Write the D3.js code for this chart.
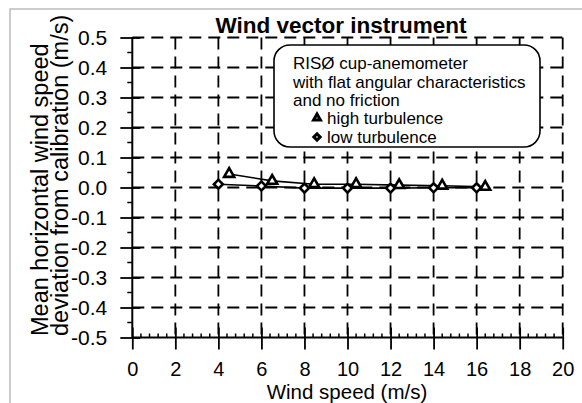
<!DOCTYPE html>
<html>
<head>
<meta charset="utf-8">
<script src="https://cdn.jsdelivr.net/npm/d3@7"></script>
<style>
  body { margin: 0; background: #fff; }
  svg { display: block; font-family: "Liberation Sans", Arial, sans-serif; }
</style>
</head>
<body>
<svg id="chart" width="582" height="403"></svg>
<script>
// Data
const highSpeed = [4.5, 6.5, 8.45, 10.4, 12.4, 14.4, 16.4];
const highDev = [0.045, 0.022, 0.011, 0.011, 0.008, 0.006, 0.002];
const lowSpeed = [4, 6, 8, 10, 12, 14, 16];
const lowDev = [0.011, 0.005, -0.002, -0.002, -0.002, -0.001, -0.001];

const xTicks = [0, 2, 4, 6, 8, 10, 12, 14, 16, 18, 20];
const yTicks = [-0.5, -0.4, -0.3, -0.2, -0.1, 0.0, 0.1, 0.2, 0.3, 0.4, 0.5];
const legendLines = ["RISØ cup-anemometer", "with flat angular characteristics", "and no friction"];
const seriesNames = ["high turbulence", "low turbulence"];

const svg = d3.select("#chart");

// frame
svg.append("path")
  .attr("d", "M10,403 V9 H582")
  .attr("fill", "none")
  .attr("stroke", "#bdbdbd")
  .attr("stroke-width", 1.5);

const x = d3.scaleLinear().domain([0, 20]).range([132.3, 562.7]);
const y = d3.scaleLinear().domain([-0.5, 0.5]).range([337.5, 37.5]);

// dashed grid
const grid = svg.append("g")
  .attr("stroke", "#000")
  .attr("stroke-width", 1.8)
  .attr("stroke-dasharray", "12,7");

grid.selectAll(".vg")
  .data(xTicks.filter(d => d > 0))
  .enter().append("line")
  .attr("x1", d => x(d)).attr("x2", d => x(d))
  .attr("y1", y(0.5)).attr("y2", y(-0.5));

grid.selectAll(".hg")
  .data(yTicks.filter(d => d > -0.5))
  .enter().append("line")
  .attr("y1", d => y(d)).attr("y2", d => y(d))
  .attr("x1", x(0)).attr("x2", x(20));

// y axis
const yAxis = svg.append("g").attr("transform", `translate(${x(0)},0)`);
yAxis.call(d3.axisLeft(y).tickValues(yTicks).tickSize(12).tickPadding(13)
  .tickFormat(d3.format(".1f")));
yAxis.select(".domain").remove();
yAxis.selectAll(".tick line").attr("x2", -12).attr("x1", 8).attr("stroke-width", 1.8);
yAxis.selectAll(".tick text").attr("font-size", 21).attr("font-family", "Liberation Sans, Arial, sans-serif")
  .text(d => d3.format(".1f")(d).replace("−", "-"));
yAxis.append("line").attr("y1", y(0.5)).attr("y2", y(-0.5)).attr("stroke", "#000").attr("stroke-width", 2);
yAxis.selectAll(".ymin")
  .data(d3.range(-9, 10, 2).map(d => d / 20))
  .enter().append("line")
  .attr("y1", d => y(d)).attr("y2", d => y(d))
  .attr("x1", -5).attr("x2", 0)
  .attr("stroke", "#000").attr("stroke-width", 1.5);

// x axis
const xAxis = svg.append("g").attr("transform", `translate(0,${y(-0.5)})`);
xAxis.call(d3.axisBottom(x).tickValues(xTicks).tickSize(12).tickPadding(12));
xAxis.select(".domain").remove();
xAxis.selectAll(".tick line").attr("y1", -10).attr("stroke-width", 1.8);
xAxis.selectAll(".tick text").attr("font-size", 20).attr("font-family", "Liberation Sans, Arial, sans-serif");
xAxis.append("line").attr("x1", x(0)).attr("x2", x(20)).attr("stroke", "#000").attr("stroke-width", 2);
xAxis.selectAll(".xmin")
  .data(d3.range(0, 20.01, 0.4).filter(d => Math.abs(d / 2 - Math.round(d / 2)) > 0.01))
  .enter().append("line")
  .attr("x1", d => x(d)).attr("x2", d => x(d))
  .attr("y1", -4).attr("y2", 0)
  .attr("stroke", "#000").attr("stroke-width", 1.5);

// titles
svg.append("text")
  .attr("x", 341).attr("y", 33)
  .attr("text-anchor", "middle")
  .attr("font-size", 22.5).attr("font-weight", "bold")
  .text("Wind vector instrument");

svg.append("text")
  .attr("x", 347).attr("y", 398.5)
  .attr("text-anchor", "middle")
  .attr("font-size", 20.5)
  .text("Wind speed (m/s)");

svg.append("text")
  .attr("transform", "translate(48,336) rotate(-90)")
  .attr("font-size", 23.5)
  .text("Mean horizontal wind speed");
svg.append("text")
  .attr("transform", "translate(68,336) rotate(-90)")
  .attr("font-size", 23.5)
  .text("deviation from calibration (m/s)");

// legend box
svg.append("rect")
  .attr("x", 274).attr("y", 45).attr("width", 266).attr("height", 102)
  .attr("rx", 16).attr("ry", 16)
  .attr("fill", "#fff").attr("stroke", "#000").attr("stroke-width", 1.6);

legendLines.forEach((t, i) => {
  svg.append("text")
    .attr("x", 293).attr("y", 69 + i * 18.5)
    .attr("font-size", 17)
    .text(t);
});

const tri = d3.symbol().type(d3.symbolTriangle).size(44);
const dia = d3.symbol().type(d3.symbolSquare).size(40);

// series lines
const line = d3.line().x(d => x(d[0])).y(d => y(d[1]));
const highPts = highSpeed.map((s, i) => [s, highDev[i]]);
const lowPts = lowSpeed.map((s, i) => [s, lowDev[i]]);

svg.append("path").datum(highPts).attr("d", line)
  .attr("fill", "none").attr("stroke", "#000").attr("stroke-width", 1.6);
svg.append("path").datum(lowPts).attr("d", line)
  .attr("fill", "none").attr("stroke", "#000").attr("stroke-width", 1.6);

svg.selectAll(".hi").data(highPts).enter().append("path")
  .attr("d", tri)
  .attr("transform", d => `translate(${x(d[0])},${y(d[1])})`)
  .attr("fill", "#fff").attr("stroke", "#000").attr("stroke-width", 2.6);

svg.selectAll(".lo").data(lowPts).enter().append("path")
  .attr("d", dia)
  .attr("transform", d => `translate(${x(d[0])},${y(d[1])}) rotate(45)`)
  .attr("fill", "#fff").attr("stroke", "#000").attr("stroke-width", 2.6);

// legend entries
[tri, dia].forEach((sym, i) => {
  const cy = 118 + i * 19;
  svg.append("path")
    .attr("d", sym.size(20))
    .attr("transform", `translate(317,${cy})` + (i === 1 ? " rotate(45)" : ""))
    .attr("fill", "#fff").attr("stroke", "#000").attr("stroke-width", 3);
  svg.append("text")
    .attr("x", 327).attr("y", cy + 6)
    .attr("font-size", 17)
    .text(seriesNames[i]);
});
</script>
</body>
</html>
